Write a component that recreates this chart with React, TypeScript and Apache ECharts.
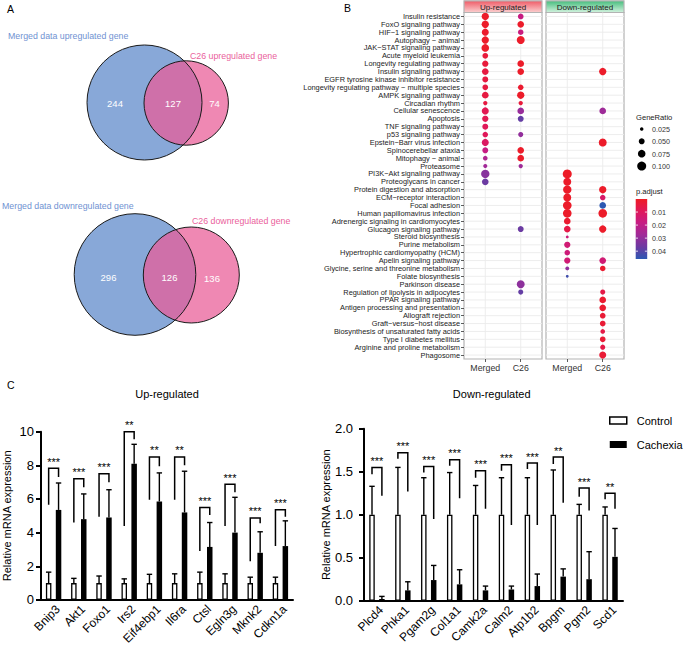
import React, { useEffect, useRef } from "react";
import * as echarts from "echarts";

const FONT = '"Liberation Sans", Arial, Helvetica, sans-serif';

// ---------- Panel A: Venn counts ----------
const vennUpSets = ["Merged data upregulated gene", "C26 upregulated gene"];
const vennUpCounts = [244, 127, 74];
const vennDownSets = ["Merged data downregulated gene", "C26 downregulated gene"];
const vennDownCounts = [296, 126, 136];

// ---------- Panel B: KEGG dot plot ----------
const pathways = [
  "Insulin resistance",
  "FoxO signaling pathway",
  "HIF\u22121 signaling pathway",
  "Autophagy \u2212 animal",
  "JAK\u2212STAT signaling pathway",
  "Acute myeloid leukemia",
  "Longevity regulating pathway",
  "Insulin signaling pathway",
  "EGFR tyrosine kinase inhibitor resistance",
  "Longevity regulating pathway \u2212 multiple species",
  "AMPK signaling pathway",
  "Circadian rhythm",
  "Cellular senescence",
  "Apoptosis",
  "TNF signaling pathway",
  "p53 signaling pathway",
  "Epstein\u2212Barr virus infection",
  "Spinocerebellar ataxia",
  "Mitophagy \u2212 animal",
  "Proteasome",
  "PI3K\u2212Akt signaling pathway",
  "Proteoglycans in cancer",
  "Protein digestion and absorption",
  "ECM\u2212receptor interaction",
  "Focal adhesion",
  "Human papillomavirus infection",
  "Adrenergic signaling in cardiomyocytes",
  "Glucagon signaling pathway",
  "Steroid biosynthesis",
  "Purine metabolism",
  "Hypertrophic cardiomyopathy (HCM)",
  "Apelin signaling pathway",
  "Glycine, serine and threonine metabolism",
  "Folate biosynthesis",
  "Parkinson disease",
  "Regulation of lipolysis in adipocytes",
  "PPAR signaling pathway",
  "Antigen processing and presentation",
  "Allograft rejection",
  "Graft\u2212versus\u2212host disease",
  "Biosynthesis of unsaturated fatty acids",
  "Type I diabetes mellitus",
  "Arginine and proline metabolism",
  "Phagosome",
];
const dotColumns = ["Merged", "C26"];
const dotPanels = ["Up-regulated", "Down-regulated"];

// Up-regulated panel, Merged column (rows are 1-based pathway positions)
const upMergedRows = [1, 2, 3, 4, 5, 6, 7, 8, 9, 10, 11, 12, 13, 14, 15, 16, 17, 18, 19, 20, 21, 22];
const upMergedRatio = [0.07, 0.07, 0.066, 0.07, 0.075, 0.047, 0.055, 0.06, 0.05, 0.047, 0.06, 0.032, 0.066, 0.055, 0.05, 0.045, 0.066, 0.05, 0.035, 0.03, 0.087, 0.06];
const upMergedPadj = [0.001, 0.001, 0.0015, 0.001, 0.001, 0.004, 0.004, 0.005, 0.005, 0.005, 0.005, 0.005, 0.008, 0.008, 0.009, 0.009, 0.011, 0.018, 0.024, 0.027, 0.032, 0.037];
// Up-regulated panel, C26 column
const upC26Rows = [1, 2, 3, 4, 7, 8, 10, 11, 12, 13, 14, 16, 18, 19, 20, 28, 35, 36];
const upC26Ratio = [0.047, 0.06, 0.045, 0.081, 0.06, 0.06, 0.045, 0.07, 0.032, 0.06, 0.05, 0.04, 0.06, 0.06, 0.032, 0.05, 0.081, 0.04];
const upC26Padj = [0.018, 0.001, 0.017, 0.001, 0.001, 0.001, 0.002, 0.001, 0.004, 0.029, 0.038, 0.03, 0.001, 0.001, 0.028, 0.037, 0.031, 0.038];
// Down-regulated panel, Merged column
const downMergedRows = [21, 22, 23, 24, 25, 26, 27, 28, 29, 30, 31, 32, 33, 34];
const downMergedRatio = [0.1, 0.081, 0.087, 0.081, 0.093, 0.093, 0.06, 0.06, 0.02, 0.055, 0.045, 0.055, 0.028, 0.02];
const downMergedPadj = [0.0005, 0.001, 0.001, 0.001, 0.001, 0.001, 0.002, 0.006, 0.016, 0.015, 0.016, 0.015, 0.03, 0.043];
// Down-regulated panel, C26 column
const downC26Rows = [8, 13, 17, 23, 24, 25, 26, 28, 32, 33, 36, 37, 38, 39, 40, 41, 42, 43, 44];
const downC26Ratio = [0.07, 0.06, 0.081, 0.07, 0.045, 0.06, 0.093, 0.07, 0.06, 0.045, 0.04, 0.06, 0.06, 0.047, 0.047, 0.035, 0.047, 0.04, 0.066];
const downC26Padj = [0.001, 0.028, 0.001, 0.001, 0.012, 0.046, 0.001, 0.001, 0.015, 0.002, 0.006, 0.002, 0.002, 0.003, 0.003, 0.006, 0.003, 0.006, 0.003];

const sizeLegendRatios = [0.025, 0.05, 0.075, 0.1];
const padjTicks = [0.01, 0.02, 0.03, 0.04];
const padjMin = 0;
const padjMax = 0.046;
const padjColors = ["#ee1c24", "#e0185a", "#c61c84", "#a02a98", "#6c3aa2", "#2c58b2"];

// ---------- Panel C: qPCR bars ----------
const barGroups = ["Control", "Cachexia"];
const upGenes = ["Bnip3", "Akt1", "Foxo1", "Irs2", "Eif4ebp1", "Il6ra", "Ctsl", "Egln3g", "Mknk2", "Cdkn1a"];
const upControlMean = [1, 1, 1, 1, 1, 1, 1, 1, 1, 1];
const upControlErrTop = [1.65, 1.28, 1.42, 1.25, 1.52, 1.55, 1.65, 1.55, 1.35, 1.35];
const upCachexiaMean = [5.35, 4.8, 4.9, 8.1, 5.85, 5.2, 3.15, 4.0, 2.8, 3.2];
const upCachexiaErrTop = [6.95, 6.3, 6.55, 9.25, 7.55, 7.65, 4.6, 6.1, 4.05, 4.7];
const upStars = ["***", "***", "***", "**", "**", "**", "***", "***", "***", "***"];
const upBracketTop = [7.83, 7.2, 7.5, 10.0, 8.5, 8.5, 5.5, 6.88, 4.87, 5.36];
const upBracketLeftEnd = [5.65, 4.6, 4.95, 4.4, 5.95, 5.95, 2.9, 4.4, 2.3, 3.2];
const upBracketRightEnd = [7.3, 6.7, 7.0, 9.55, 7.95, 8.0, 5.05, 6.4, 4.55, 4.95];

const downGenes = ["Plcd4", "Phka1", "Pgam2g", "Col1a1", "Camk2a", "Calm2", "Atp1b2", "Bpgm", "Pgm2", "Scd1"];
const downControlMean = [1, 1, 1, 1, 1, 1, 1, 1, 1, 1];
const downControlErrTop = [1.33, 1.55, 1.43, 1.49, 1.34, 1.43, 1.43, 1.52, 1.12, 1.09];
const downCachexiaMean = [0.02, 0.12, 0.24, 0.19, 0.12, 0.13, 0.17, 0.28, 0.25, 0.51];
const downCachexiaErrTop = [0.05, 0.22, 0.41, 0.36, 0.17, 0.17, 0.31, 0.37, 0.57, 0.84];
const downStars = ["***", "***", "***", "***", "***", "***", "***", "**", "***", "**"];
const downBracketTop = [1.55, 1.72, 1.56, 1.64, 1.51, 1.58, 1.6, 1.67, 1.31, 1.25];
const downBracketLeftEnd = [1.47, 1.65, 1.49, 1.57, 1.43, 1.51, 1.53, 1.59, 1.21, 1.18];
const downBracketRightEnd = [1.22, 1.27, 0.95, 1.19, 1.07, 0.88, 0.88, 1.14, 1.05, 1.07];

// ---------- helpers ----------
const sizeOf = (r: number) => Math.sqrt(Math.max(6, 916.7 * r - 10.67));
const BAR_W = 5.5;
const BAR_GAP = "80%";
const BAR_OFF = (BAR_W + BAR_W * 0.8) / 2;

const txt = (x: number, y: number, text: string, size: number, color: string, align = "left", vAlign = "middle") => ({
  type: "text",
  x,
  y,
  silent: true,
  style: {
    text,
    fill: color,
    fontSize: size,
    fontFamily: FONT,
    align,
    verticalAlign: vAlign,
    textAlign: align,
    textVerticalAlign: vAlign,
  },
});

const circle = (cx: number, cy: number, r: number, fill: string, stroke?: string) => ({
  type: "circle",
  silent: true,
  shape: { cx, cy, r },
  style: stroke ? { fill: "none", stroke, lineWidth: 1 } : { fill },
});

const dotData = (rows: number[], col: number, ratio: number[], padj: number[]) =>
  rows.map((r, i) => [col, r - 1, ratio[i], padj[i]]);

const hGrid = (idx: number) => ({
  type: "custom",
  xAxisIndex: idx,
  yAxisIndex: idx,
  z: 1,
  silent: true,
  data: pathways.map((_, i) => [1.5, i]),
  renderItem: (params: any, api: any) => {
    const p = api.coord([1.5, api.value(1)]);
    const cs = params.coordSys;
    return {
      type: "line",
      shape: { x1: cs.x, y1: p[1], x2: cs.x + cs.width, y2: p[1] },
      style: { stroke: "#ebebeb", lineWidth: 0.9 },
    };
  },
});

const vGrid = (idx: number) => ({
  type: "custom",
  xAxisIndex: idx,
  yAxisIndex: idx,
  z: 1,
  silent: true,
  data: dotColumns.map((_, i) => [i + 1, 0]),
  renderItem: (params: any, api: any) => {
    const p = api.coord([api.value(0), 0]);
    const cs = params.coordSys;
    return {
      type: "line",
      shape: { x1: p[0], y1: cs.y, x2: p[0], y2: cs.y + cs.height },
      style: { stroke: "#ebebeb", lineWidth: 0.9 },
    };
  },
});

const errSeries = (ax: number, means: number[], tops: number[], offset: number) => ({
  type: "custom",
  xAxisIndex: ax,
  yAxisIndex: ax,
  z: 4,
  silent: true,
  data: means.map((m, i) => [i, m, tops[i]]),
  renderItem: (params: any, api: any) => {
    const b = api.coord([api.value(0), api.value(1)]);
    const t = api.coord([api.value(0), api.value(2)]);
    const x = b[0] + offset;
    return {
      type: "group",
      children: [
        { type: "line", shape: { x1: x, y1: b[1], x2: x, y2: t[1] }, style: { stroke: "#000", lineWidth: 1.4 } },
        { type: "line", shape: { x1: x - 2.7, y1: t[1], x2: x + 2.7, y2: t[1] }, style: { stroke: "#000", lineWidth: 1.4 } },
      ],
    };
  },
});

const bracketSeries = (ax: number, tops: number[], lefts: number[], rights: number[], stars: string[]) => ({
  type: "custom",
  xAxisIndex: ax,
  yAxisIndex: ax,
  z: 5,
  silent: true,
  clip: false,
  data: tops.map((t, i) => [i, t, lefts[i], rights[i]]),
  renderItem: (params: any, api: any) => {
    const i = api.value(0);
    const top = api.coord([i, api.value(1)]);
    const lb = api.coord([i, api.value(2)]);
    const rb = api.coord([i, api.value(3)]);
    const xl = top[0] - BAR_OFF;
    const xr = top[0] + BAR_OFF;
    return {
      type: "group",
      children: [
        {
          type: "polyline",
          shape: { points: [[xl, lb[1]], [xl, top[1]], [xr, top[1]], [xr, rb[1]]] },
          style: { stroke: "#000", lineWidth: 1.5, fill: "none" },
        },
        {
          type: "text",
          x: (xl + xr) / 2,
          y: top[1] - 1,
          style: {
            text: stars[params.dataIndex],
            fill: "#000",
            fontSize: 11,
            fontFamily: FONT,
            align: "center",
            verticalAlign: "bottom",
            textAlign: "center",
            textVerticalAlign: "bottom",
          },
        },
      ],
    };
  },
});

const dotXAxis = (gridIndex: number) => ({
  gridIndex,
  type: "value",
  min: 0.4,
  max: 2.6,
  axisLine: { show: false },
  splitLine: { show: false },
  axisTick: { show: true, customValues: [1, 2], length: 3, lineStyle: { color: "#333", width: 0.8 } },
  axisLabel: {
    customValues: [1, 2],
    formatter: (v: number) => dotColumns[Math.round(v) - 1] || "",
    fontSize: 8.8,
    color: "#333",
    margin: 4,
    fontFamily: FONT,
  },
});

const dotYAxis = (gridIndex: number, labels: boolean) => ({
  gridIndex,
  type: "category",
  data: pathways,
  inverse: true,
  axisLine: { show: false },
  splitLine: { show: false },
  axisTick: { show: labels, alignWithLabel: true, interval: 0, length: 3, lineStyle: { color: "#333", width: 0.8 } },
  axisLabel: { show: labels, interval: 0, fontSize: 7.4, color: "#222", margin: 4, fontFamily: FONT },
});

const barXAxis = (gridIndex: number, genes: string[]) => ({
  gridIndex,
  type: "category",
  data: genes,
  axisLine: { show: true, lineStyle: { color: "#000", width: 2 } },
  axisTick: { show: false },
  axisLabel: { interval: 0, rotate: 45, fontSize: 12, color: "#000", margin: 3, verticalAlign: "top", fontFamily: FONT },
});

const barYAxis = (gridIndex: number, max: number, interval: number, nameGap: number, margin: number, fmt: (v: number) => string) => ({
  gridIndex,
  type: "value",
  min: 0,
  max,
  interval,
  name: "Relative mRNA expression",
  nameLocation: "middle",
  nameGap,
  nameTextStyle: { fontSize: 11, color: "#000", fontFamily: FONT },
  axisLine: { show: true, lineStyle: { color: "#000", width: 2 } },
  axisTick: { show: true, length: 5, lineStyle: { color: "#000", width: 2 } },
  axisLabel: { fontSize: 13, color: "#000", margin, formatter: fmt, fontFamily: FONT },
  splitLine: { show: false },
});

const colorbarY0 = 199;
const colorbarH = 60;
const padjToY = (p: number) => colorbarY0 + ((p - padjMin) / (padjMax - padjMin)) * colorbarH;

const graphic: any[] = [
  // Panel letters
  txt(7, 9, "A", 10.5, "#000"),
  txt(344, 8, "B", 10.5, "#000"),
  txt(7, 385, "C", 10.5, "#000"),

  // Venn (up)
  circle(144.5, 102.5, 57.5, "#88a8d8"),
  circle(186.2, 103, 42.2, "rgba(233,92,151,0.73)"),
  circle(144.5, 102.5, 57.5, "", "#1a1a1a"),
  circle(186.2, 103, 42.2, "", "#1a1a1a"),
  txt(8, 36, vennUpSets[0], 8.8, "#6f92d2"),
  txt(190, 56, vennUpSets[1], 8.8, "#ea5f9c"),
  txt(115, 103.5, String(vennUpCounts[0]), 9.5, "#fff", "center"),
  txt(173, 103.5, String(vennUpCounts[1]), 9.5, "#fff", "center"),
  txt(214.5, 103.5, String(vennUpCounts[2]), 9.5, "#fff", "center"),

  // Venn (down)
  circle(135, 274.5, 60.8, "#88a8d8"),
  circle(191.3, 275, 48, "rgba(233,92,151,0.73)"),
  circle(135, 274.5, 60.8, "", "#1a1a1a"),
  circle(191.3, 275, 48, "", "#1a1a1a"),
  txt(2, 206, vennDownSets[0], 8.8, "#6f92d2"),
  txt(192, 221, vennDownSets[1], 8.8, "#ea5f9c"),
  txt(108.5, 277, String(vennDownCounts[0]), 9.5, "#fff", "center"),
  txt(169.5, 277, String(vennDownCounts[1]), 9.5, "#fff", "center"),
  txt(212, 278, String(vennDownCounts[2]), 9.5, "#fff", "center"),

  // Strips
  {
    type: "rect",
    silent: true,
    shape: { x: 464, y: 0.8, width: 78, height: 11.7 },
    style: {
      fill: { type: "linear", x: 0, y: 0, x2: 0, y2: 1, colorStops: [{ offset: 0, color: "#ef5a66" }, { offset: 1, color: "#fbd0d0" }] },
      stroke: "#b3b3b3",
      lineWidth: 1.2,
    },
  },
  {
    type: "rect",
    silent: true,
    shape: { x: 546, y: 0.8, width: 78, height: 11.7 },
    style: {
      fill: { type: "linear", x: 0, y: 0, x2: 0, y2: 1, colorStops: [{ offset: 0, color: "#45bd7c" }, { offset: 1, color: "#d2f2de" }] },
      stroke: "#b3b3b3",
      lineWidth: 1.2,
    },
  },
  txt(503, 7, dotPanels[0], 8, "#1a1a1a", "center"),
  txt(585, 7, dotPanels[1], 8, "#1a1a1a", "center"),

  // Size legend
  txt(636, 117, "GeneRatio", 7.6, "#1a1a1a"),
  ...sizeLegendRatios.map((r, i) => circle(641.7, 129 + i * 12.35, sizeOf(r) / 2, "#000")),
  ...sizeLegendRatios.map((r, i) => txt(652, 129.5 + i * 12.35, r.toFixed(3), 7.2, "#333")),

  // Colour bar
  txt(636, 191, "p.adjust", 7.6, "#1a1a1a"),
  {
    type: "rect",
    silent: true,
    shape: { x: 635.7, y: colorbarY0, width: 11.5, height: colorbarH },
    style: {
      fill: {
        type: "linear",
        x: 0,
        y: 0,
        x2: 0,
        y2: 1,
        colorStops: padjColors.map((c, i) => ({ offset: i / (padjColors.length - 1), color: c })),
      },
    },
  },
  ...padjTicks.map((p) => ({
    type: "line",
    silent: true,
    shape: { x1: 635.7, y1: padjToY(p), x2: 638, y2: padjToY(p) },
    style: { stroke: "#fff", lineWidth: 0.8 },
  })),
  ...padjTicks.map((p) => ({
    type: "line",
    silent: true,
    shape: { x1: 644.9, y1: padjToY(p), x2: 647.2, y2: padjToY(p) },
    style: { stroke: "#fff", lineWidth: 0.8 },
  })),
  ...padjTicks.map((p) => txt(652, padjToY(p) + 0.5, String(p), 7.2, "#333")),

  // Panel C titles
  txt(167, 394, "Up-regulated", 11, "#000", "center"),
  txt(491.7, 394, "Down-regulated", 11, "#000", "center"),
];

const option: any = {
  animation: false,
  backgroundColor: "#fff",
  textStyle: { fontFamily: FONT },
  grid: [
    { left: 464, top: 12.5, width: 78, height: 346.5, show: true, borderColor: "#b3b3b3", borderWidth: 1.2, backgroundColor: "#fff", z: 0 },
    { left: 546, top: 12.5, width: 78, height: 346.5, show: true, borderColor: "#b3b3b3", borderWidth: 1.2, backgroundColor: "#fff", z: 0 },
    { left: 40, top: 431.7, width: 253, height: 169 },
    { left: 364, top: 428.7, width: 259, height: 172 },
  ],
  xAxis: [dotXAxis(0), dotXAxis(1), barXAxis(2, upGenes), barXAxis(3, downGenes)],
  yAxis: [
    dotYAxis(0, true),
    dotYAxis(1, false),
    barYAxis(2, 10, 2, 29, 7, (v: number) => String(v)),
    barYAxis(3, 2, 0.5, 33, 11, (v: number) => v.toFixed(1)),
  ],
  visualMap: [
    {
      type: "continuous",
      show: false,
      min: padjMin,
      max: padjMax,
      dimension: 3,
      seriesIndex: [4, 5],
      inRange: { color: padjColors },
    },
  ],
  legend: {
    data: [
      { name: barGroups[0], itemStyle: { color: "#fff", borderColor: "#000", borderWidth: 1.5 } },
      { name: barGroups[1], itemStyle: { color: "#000" } },
    ],
    orient: "vertical",
    left: 609,
    top: 415,
    itemWidth: 17,
    itemHeight: 7,
    itemGap: 13,
    icon: "rect",
    selectedMode: false,
    padding: 0,
    textStyle: { fontSize: 11, color: "#000", fontFamily: FONT, padding: [0, 0, 0, 5] },
  },
  series: [
    hGrid(0),
    vGrid(0),
    hGrid(1),
    vGrid(1),
    {
      type: "scatter",
      xAxisIndex: 0,
      yAxisIndex: 0,
      z: 3,
      silent: true,
      data: [...dotData(upMergedRows, 1, upMergedRatio, upMergedPadj), ...dotData(upC26Rows, 2, upC26Ratio, upC26Padj)],
      symbolSize: (v: number[]) => sizeOf(v[2]),
      itemStyle: { opacity: 1 },
    },
    {
      type: "scatter",
      xAxisIndex: 1,
      yAxisIndex: 1,
      z: 3,
      silent: true,
      data: [...dotData(downMergedRows, 1, downMergedRatio, downMergedPadj), ...dotData(downC26Rows, 2, downC26Ratio, downC26Padj)],
      symbolSize: (v: number[]) => sizeOf(v[2]),
      itemStyle: { opacity: 1 },
    },
    {
      type: "bar",
      name: barGroups[0],
      xAxisIndex: 2,
      yAxisIndex: 2,
      data: upControlMean,
      barWidth: BAR_W,
      barGap: BAR_GAP,
      z: 3,
      itemStyle: { color: "#fff", borderColor: "#000", borderWidth: 1.3 },
    },
    {
      type: "bar",
      name: barGroups[1],
      xAxisIndex: 2,
      yAxisIndex: 2,
      data: upCachexiaMean,
      barWidth: BAR_W,
      barGap: BAR_GAP,
      z: 3,
      itemStyle: { color: "#000" },
    },
    errSeries(2, upControlMean, upControlErrTop, -BAR_OFF),
    errSeries(2, upCachexiaMean, upCachexiaErrTop, BAR_OFF),
    bracketSeries(2, upBracketTop, upBracketLeftEnd, upBracketRightEnd, upStars),
    {
      type: "bar",
      name: barGroups[0],
      xAxisIndex: 3,
      yAxisIndex: 3,
      data: downControlMean,
      barWidth: BAR_W,
      barGap: BAR_GAP,
      z: 3,
      itemStyle: { color: "#fff", borderColor: "#000", borderWidth: 1.3 },
    },
    {
      type: "bar",
      name: barGroups[1],
      xAxisIndex: 3,
      yAxisIndex: 3,
      data: downCachexiaMean,
      barWidth: BAR_W,
      barGap: BAR_GAP,
      z: 3,
      itemStyle: { color: "#000" },
    },
    errSeries(3, downControlMean, downControlErrTop, -BAR_OFF),
    errSeries(3, downCachexiaMean, downCachexiaErrTop, BAR_OFF),
    bracketSeries(3, downBracketTop, downBracketLeftEnd, downBracketRightEnd, downStars),
  ],
  graphic,
};

export default function App() {
  const ref = useRef<HTMLDivElement>(null);
  useEffect(() => {
    if (!ref.current) return;
    const chart = echarts.init(ref.current, undefined, { renderer: "svg" });
    chart.setOption(option);
    return () => chart.dispose();
  }, []);
  return (
    <div
      ref={ref}
      style={{ position: "fixed", left: 0, top: 0, width: 685, height: 647, background: "#fff" }}
    />
  );
}
